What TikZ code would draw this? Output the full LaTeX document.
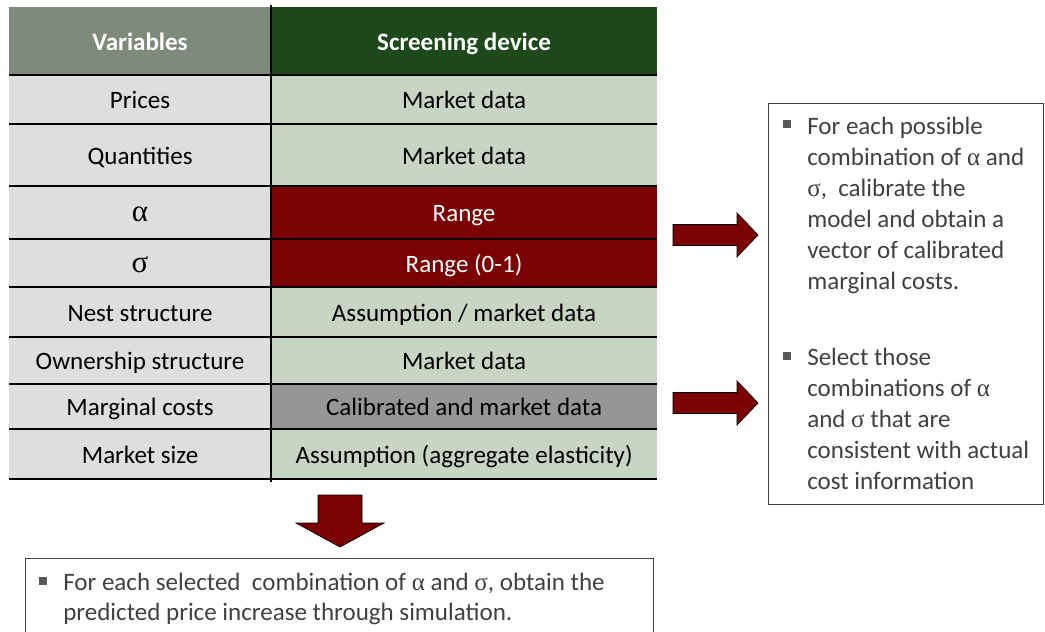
\documentclass[tikz,border=0pt]{standalone}
\usepackage{fontspec}
\setmainfont{Carlito}
\newfontfamily\grkfont{Liberation Serif}
\usetikzlibrary{positioning}
\definecolor{hdrgray}{HTML}{7F8B7A}
\definecolor{hdrgreen}{HTML}{1E4A1B}
\definecolor{vargray}{HTML}{DDDFDC}
\definecolor{datagreen}{HTML}{C8D5C3}
\definecolor{rangered}{HTML}{7B0000}
\definecolor{calibgray}{HTML}{969696}
\definecolor{boxtext}{HTML}{404040}
\definecolor{bulgray}{HTML}{595959}
\newcommand{\galpha}{{\grkfont α}}
\newcommand{\gsigma}{{\grkfont σ}}

\begin{document}
\begin{tikzpicture}[
  x=0.025cm, y=-0.025cm,
  every node/.style={font=\fontsize{17.8}{22}\selectfont},
  lcell/.style n args={2}{
    rectangle, fill=#1, anchor=north west, inner sep=0pt, outer sep=0pt,
    minimum width=6.55cm, minimum height=#2*0.025cm,
    text height=15.5pt, text depth=2.5pt
  },
  rcell/.style n args={2}{
    rectangle, fill=#1, anchor=north west, inner sep=0pt, outer sep=0pt,
    minimum width=9.65cm, minimum height=#2*0.025cm,
    text height=15.5pt, text depth=2.5pt
  },
  hdrtext/.style={text=white, font=\fontsize{17.8}{22}\selectfont\bfseries},
  grktext/.style={font=\fontsize{22}{24}\selectfont},
  rowline/.style={line width=1.4pt, black},
  divline/.style={line width=1.3pt, black},
  blockarrow/.style={fill=rangered, draw=black, line width=0.5pt, line join=miter},
  stepbox/.style={rectangle, draw=boxtext, line width=0.8pt, anchor=north west,
    inner sep=0pt},
  steptext/.style={text=boxtext, align=left, anchor=north west, inner sep=0pt},
  bulsq/.style={rectangle, fill=bulgray, minimum size=0.18cm, inner sep=0pt}
]
\useasboundingbox (0,0) rectangle (1045,631);

%% column x-positions (px)
\def\xA{9}
\def\xB{271}

%% === HEADER ===
\node[lcell={hdrgray}{68}, hdrtext]  (l0) at (\xA,7) {Variables};
\node[rcell={hdrgreen}{68}, hdrtext] (d0) at (\xB,7) {Screening device};

%% === ROWS ===
\node[lcell={vargray}{49}]   (l1) at (\xA,75)  {Prices};
\node[rcell={datagreen}{49}] (d1) at (\xB,75)  {Market data};
\node[lcell={vargray}{62}]   (l2) at (\xA,124) {Quantities};
\node[rcell={datagreen}{62}] (d2) at (\xB,124) {Market data};
\node[lcell={vargray}{53}, grktext] (l3) at (\xA,186) {\galpha};
\node[rcell={rangered}{53}, text=white] (d3) at (\xB,186) {Range};
\node[lcell={vargray}{48}, grktext] (l4) at (\xA,239) {\gsigma};
\node[rcell={rangered}{48}, text=white] (d4) at (\xB,239) {Range (0-1)};
\node[lcell={vargray}{50}]   (l5) at (\xA,287) {Nest structure};
\node[rcell={datagreen}{50}] (d5) at (\xB,287) {Assumption / market data};
\node[lcell={vargray}{47}]   (l6) at (\xA,337) {Ownership structure};
\node[rcell={datagreen}{47}] (d6) at (\xB,337) {Market data};
\node[lcell={vargray}{45}]   (l7) at (\xA,384) {Marginal costs};
\node[rcell={calibgray}{45}] (d7) at (\xB,384) {Calibrated and market data};
\node[lcell={vargray}{50}]   (l8) at (\xA,429) {Market size};
\node[rcell={datagreen}{50}] (d8) at (\xB,429) {Assumption (aggregate elasticity)};

%% row rules and column divider
\foreach \i in {0,...,8}
  \draw[rowline] (l\i.south west) -- (d\i.south east);
\draw[divline] (\xB,5) -- (\xB,482);

%% === RIGHT BOX ===
\node[stepbox, minimum width=6.875cm, minimum height=10.025cm] (stepsbox) at (768,103) {};
\node[bulsq] (bulA) at (787,124) {};
\node[steptext] (stepA) at (807,117) {For each possible\\
  combination of \galpha\ and\\
  \gsigma,\ \ calibrate the\\
  model and obtain a\\
  vector of calibrated\\
  marginal costs.};
\node[bulsq] (bulB) at (787,356) {};
\node[steptext] (stepB) at (807,348) {Select those\\
  combinations of \galpha\\
  and \gsigma\ that are\\
  consistent with actual\\
  cost information};

%% === BOTTOM BOX ===
\node[stepbox, minimum width=15.7cm, minimum height=2.5cm] (simbox) at (25,558) {};
\node[bulsq] (bulC) at (43,581) {};
\node[steptext, font=\fontsize{17.8}{21.5}\selectfont] (stepC) at (63,573)
  {For each selected\ \ combination of \galpha\ and \gsigma, obtain the\\
  predicted price increase through simulation.};

%% === BLOCK ARROWS ===
\coordinate (arA) at (673,235);
\draw[blockarrow] (arA) -- ++(0,-10.5) -- ++(64,0) -- ++(0,-11.5)
  -- ++(21,22) -- ++(-21,22) -- ++(0,-11.5) -- ++(-64,0) -- cycle;
\coordinate (arB) at (673,403);
\draw[blockarrow] (arB) -- ++(0,-10.5) -- ++(64,0) -- ++(0,-11.5)
  -- ++(21,22) -- ++(-21,22) -- ++(0,-11.5) -- ++(-64,0) -- cycle;
\coordinate (arC) at (340,495);
\draw[blockarrow] (arC) -- ++(22,0) -- ++(0,28) -- ++(22,0)
  -- ++(-44,24) -- ++(-44,-24) -- ++(22,0) -- ++(0,-28) -- cycle;

\end{tikzpicture}
\end{document}
